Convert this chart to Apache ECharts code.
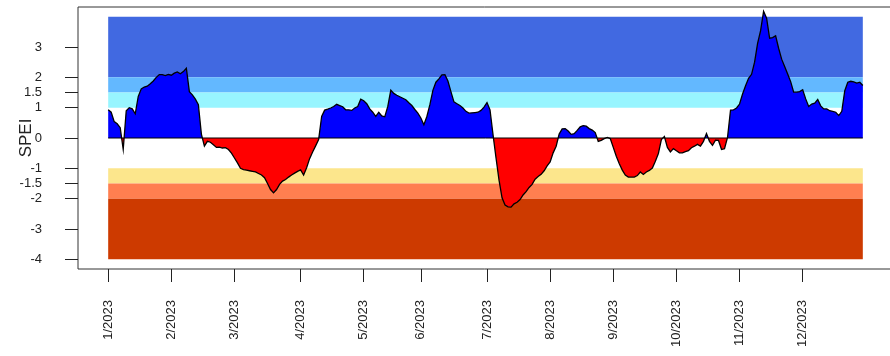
<!DOCTYPE html>
<html><head><meta charset="utf-8">
<script src="https://cdn.jsdelivr.net/npm/echarts@6/dist/echarts.min.js"></script>
<style>html,body{margin:0;padding:0;background:#fff}#c{width:890px;height:356px}</style>
</head><body><div id="c"></div>
<script>
// SPEI values, one per time step
const speiValues = [
 0.93, 0.85, 0.54, 0.47, 0.34, -0.38, 0.90, 1.00, 0.96, 0.80,
 1.37, 1.62, 1.68, 1.71, 1.79, 1.88, 2.00, 2.09, 2.09, 2.06,
 2.10, 2.07, 2.14, 2.18, 2.12, 2.19, 2.30, 1.53, 1.42, 1.28,
 1.10, 0.13, -0.27, -0.11, -0.14, -0.22, -0.31, -0.30, -0.33, -0.32,
 -0.38, -0.50, -0.66, -0.82, -1.00, -1.04, -1.06, -1.08, -1.10, -1.12,
 -1.17, -1.22, -1.31, -1.50, -1.70, -1.81, -1.70, -1.53, -1.42, -1.37,
 -1.29, -1.22, -1.16, -1.10, -1.05, -1.22, -0.98, -0.68, -0.46, -0.26,
 -0.05, 0.71, 0.92, 0.95, 0.99, 1.04, 1.11, 1.07, 1.03, 0.93,
 0.93, 0.91, 0.99, 1.04, 1.28, 1.23, 1.13, 0.96, 0.85, 0.71,
 0.85, 0.73, 0.70, 1.04, 1.58, 1.47, 1.41, 1.36, 1.31, 1.26,
 1.16, 1.07, 0.94, 0.82, 0.66, 0.44, 0.71, 1.10, 1.57, 1.84,
 1.95, 2.08, 2.09, 1.88, 1.53, 1.19, 1.13, 1.07, 0.99, 0.88,
 0.82, 0.83, 0.84, 0.85, 0.91, 1.02, 1.17, 0.93, 0.11, -0.66,
 -1.39, -1.97, -2.21, -2.27, -2.28, -2.17, -2.12, -2.03, -1.88, -1.77,
 -1.63, -1.53, -1.36, -1.27, -1.20, -1.08, -0.92, -0.79, -0.49, -0.27,
 0.13, 0.30, 0.31, 0.23, 0.12, 0.14, 0.25, 0.37, 0.41, 0.39,
 0.31, 0.26, 0.18, -0.11, -0.08, -0.02, 0.02, -0.02, -0.31, -0.60,
 -0.85, -1.06, -1.22, -1.29, -1.29, -1.29, -1.24, -1.12, -1.20, -1.12,
 -1.07, -0.99, -0.77, -0.51, -0.05, 0.05, -0.31, -0.46, -0.35, -0.42,
 -0.49, -0.49, -0.45, -0.42, -0.32, -0.27, -0.21, -0.27, -0.11, 0.15,
 -0.11, -0.24, -0.07, -0.08, -0.38, -0.35, 0.02, 0.92, 0.93, 0.99,
 1.12, 1.45, 1.72, 1.97, 2.10, 2.50, 3.12, 3.54, 4.18, 3.95,
 3.29, 3.31, 3.37, 2.96, 2.60, 2.36, 2.11, 1.86, 1.51, 1.51,
 1.53, 1.59, 1.29, 1.04, 1.12, 1.15, 1.27, 1.06, 0.96, 0.96,
 0.90, 0.88, 0.85, 0.74, 0.88, 1.56, 1.84, 1.87, 1.85, 1.81,
 1.84, 1.73
];
const monthLabels = ['1/2023','2/2023','3/2023','4/2023','5/2023','6/2023','7/2023','8/2023','9/2023','10/2023','11/2023','12/2023'];
const monthStartIndex = [0, 21, 42, 64, 85, 104, 126, 147, 168, 189, 210, 231];
const yTickValues = [3, 2, 1.5, 1, 0, -1, -1.5, -2, -3, -4];
const bandLow  = [2, 1.5, 1, -1.5, -2, -4];
const bandHigh = [4, 2, 1.5, -1, -1.5, -2];
const bandColors = ['#4169E1', '#63B8FF', '#98F5FF', '#FCE68C', '#FF7F50', '#CD3A00'];

const n = speiValues.length;
const lastIdx = n - 1;
const xPad = lastIdx * 0.04;
const yLim = 4;
const yPad = yLim * 2 * 0.04;
const seriesData = speiValues.map((v, i) => [i, v]);
const bandData = bandLow.map((lo, k) => [0, lastIdx, lo, bandHigh[k]]);
const font = "'Liberation Sans', Arial, sans-serif";

// split fill colour at zero: the area polygon spans from max(values, 0) to min(values, 0)
const vMax = Math.max(0, ...speiValues);
const vMin = Math.min(0, ...speiValues);
const zeroOffset = vMax / (vMax - vMin);
const areaFill = new echarts.graphic.LinearGradient(0, 0, 0, 1, [
  {offset: 0, color: '#0000FF'},
  {offset: zeroOffset, color: '#0000FF'},
  {offset: zeroOffset, color: '#FF0000'},
  {offset: 1, color: '#FF0000'}
]);

const chart = echarts.init(document.getElementById('c'), null, {renderer: 'canvas'});
chart.setOption({
  animation: false,
  backgroundColor: '#fff',
  grid: {left: 78, top: 7, width: 815, height: 262, show: true, borderColor: '#333', borderWidth: 1,
    backgroundColor: 'transparent', containLabel: false, outerBoundsMode: 'none'},
  xAxis: {
    type: 'value', min: -xPad, max: lastIdx + xPad,
    axisLine: {show: false, onZero: false}, splitLine: {show: false},
    axisTick: {show: true, customValues: monthStartIndex, length: 13, lineStyle: {color: '#222', width: 1}},
    axisLabel: {show: true, customValues: monthStartIndex, rotate: 90, margin: 31, fontSize: 13, fontFamily: font, color: '#222',
      formatter: (v) => monthLabels[monthStartIndex.indexOf(Math.round(v))] || ''}
  },
  yAxis: {
    type: 'value', min: -(yLim + yPad), max: yLim + yPad,
    name: 'SPEI', nameLocation: 'middle', nameGap: 43, nameMoveOverlap: false,
    nameTextStyle: {fontSize: 17, fontFamily: font, color: '#222'},
    axisLine: {show: false, onZero: false}, splitLine: {show: false},
    axisTick: {show: true, customValues: yTickValues, length: 13, lineStyle: {color: '#222', width: 1}},
    axisLabel: {show: true, customValues: yTickValues, margin: 36, fontSize: 13, fontFamily: font, color: '#222',
      formatter: (v) => String(v)}
  },
  series: [
    {
      type: 'custom', z: 1, silent: true, data: bandData,
      encode: {x: [0, 1], y: [2, 3]},
      renderItem: (params, api) => {
        const p1 = api.coord([api.value(0), api.value(3)]);
        const p2 = api.coord([api.value(1), api.value(2)]);
        return {type: 'rect', shape: {x: p1[0], y: p1[1], width: p2[0] - p1[0], height: p2[1] - p1[1]},
          style: {fill: bandColors[params.dataIndex]}};
      }
    },
    {
      type: 'line', z: 2, silent: true, data: seriesData, symbol: 'none', smooth: false, sampling: null,
      lineStyle: {width: 0, opacity: 0}, areaStyle: {opacity: 1, origin: 0, color: areaFill}
    },
    {
      type: 'line', z: 3, silent: true, data: seriesData, symbol: 'none', smooth: false, sampling: null,
      lineStyle: {width: 1.3, color: '#000', join: 'miter'}, itemStyle: {color: '#000'}
    },
    {
      type: 'line', z: 3, silent: true, data: [[0, 0], [lastIdx, 0]], symbol: 'none',
      lineStyle: {width: 1, color: '#000'}
    }
  ]
});
</script>
</body></html>
